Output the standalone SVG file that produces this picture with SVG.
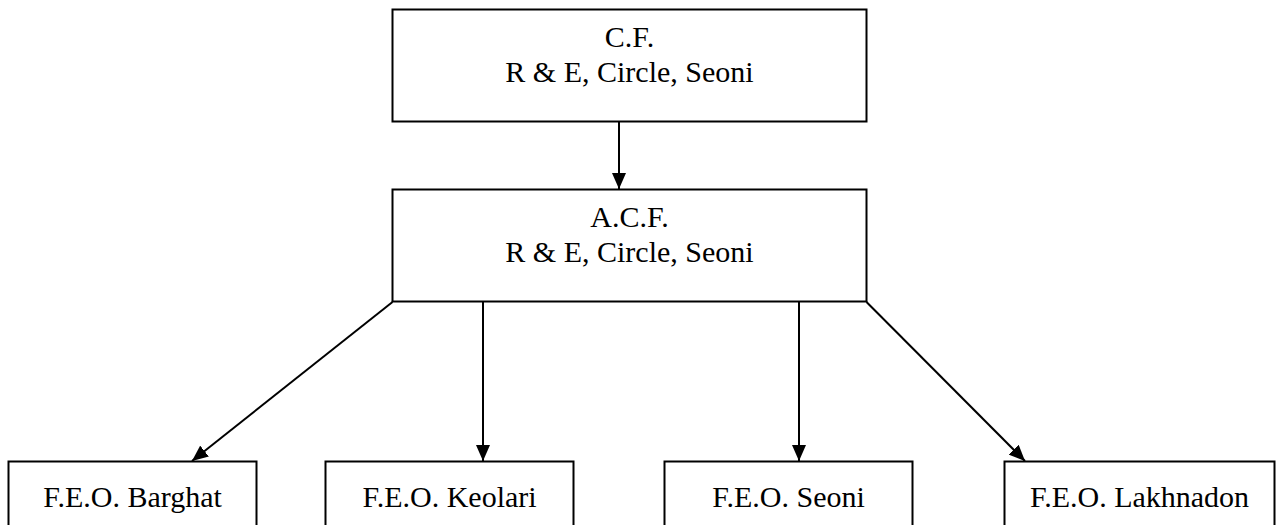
<svg xmlns="http://www.w3.org/2000/svg" width="1283" height="525" viewBox="0 0 1283 525">
<style>
.box{fill:#fff;stroke:#000;stroke-width:2}
.t{font-family:"Liberation Serif","Times New Roman",serif;font-size:30px;fill:#000;text-anchor:middle}
.c{stroke:#000;stroke-width:2;fill:none;marker-end:url(#ah)}
</style>
<defs>
<marker id="ah" markerUnits="userSpaceOnUse" markerWidth="16" markerHeight="14" viewBox="0 0 16 14" refX="16" refY="7" orient="auto">
<path d="M0,0 L16,7 L0,14 Z" fill="#000"/>
</marker>
</defs>
<rect width="1283" height="525" fill="#fff"/>
<g id="cf">
<rect class="box" x="392.5" y="9.5" width="474" height="112"/>
<text class="t" x="629.5" y="47">C.F.</text>
<text class="t" x="629.5" y="82">R &amp; E, Circle, Seoni</text>
</g>
<g id="acf">
<rect class="box" x="392.5" y="189.5" width="474" height="112"/>
<text class="t" x="629.5" y="227">A.C.F.</text>
<text class="t" x="629.5" y="262">R &amp; E, Circle, Seoni</text>
</g>
<g id="barghat">
<rect class="box" x="8.5" y="461.5" width="248" height="100"/>
<text class="t" x="132.5" y="507">F.E.O. Barghat</text>
</g>
<g id="keolari">
<rect class="box" x="325.5" y="461.5" width="248" height="100"/>
<text class="t" x="449.5" y="507">F.E.O. Keolari</text>
</g>
<g id="seoni">
<rect class="box" x="664.5" y="461.5" width="248" height="100"/>
<text class="t" x="788.5" y="507">F.E.O. Seoni</text>
</g>
<g id="lakhnadon">
<rect class="box" x="1004.5" y="461.5" width="270" height="100"/>
<text class="t" x="1139.5" y="507">F.E.O. Lakhnadon</text>
</g>
<g id="connectors">
<line class="c" x1="619" y1="122" x2="619" y2="189"/>
<line class="c" x1="392.5" y1="302" x2="192" y2="461"/>
<line class="c" x1="483" y1="302" x2="483" y2="461"/>
<line class="c" x1="799" y1="302" x2="799" y2="461"/>
<line class="c" x1="866.5" y1="302" x2="1025" y2="461"/>
</g>
</svg>
